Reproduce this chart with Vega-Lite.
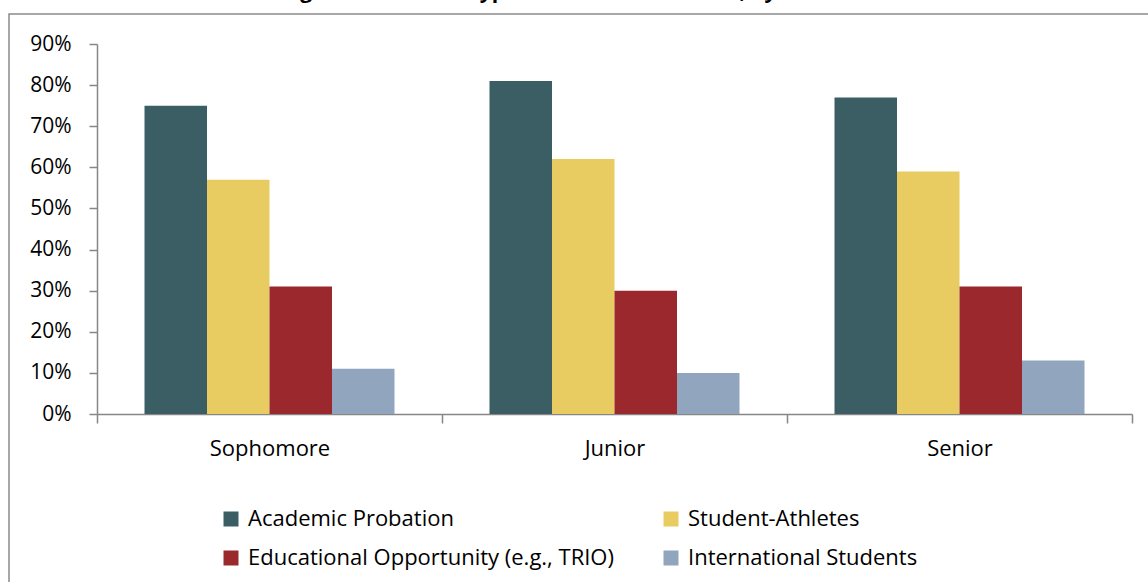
{
  "$schema": "https://vega.github.io/schema/vega-lite/v6.json",
  "autosize": {"type": "none"},
  "padding": {"left": 9, "top": 14, "right": -4, "bottom": -4},
  "width": 1143,
  "height": 572,
  "background": "white",
  "config": {
    "view": {"stroke": "#8a8a8a", "strokeWidth": 1.5},
    "font": "Open Sans"
  },
  "title": {
    "text": "Share of Institutions Offering Aid to Certain Types of Students in Need, by Class Level",
    "font": "Open Sans",
    "fontSize": 21,
    "fontWeight": "bold",
    "color": "black",
    "baseline": "alphabetic",
    "frame": "group",
    "offset": 0,
    "dy": 5,
    "dx": -130
  },
  "data": {
    "values": [
      {"year": "Sophomore", "type": "Academic Probation", "value": 0.75},
      {"year": "Sophomore", "type": "Student-Athletes", "value": 0.57},
      {"year": "Sophomore", "type": "Educational Opportunity (e.g., TRIO)", "value": 0.31},
      {"year": "Sophomore", "type": "International Students", "value": 0.11},
      {"year": "Junior", "type": "Academic Probation", "value": 0.81},
      {"year": "Junior", "type": "Student-Athletes", "value": 0.62},
      {"year": "Junior", "type": "Educational Opportunity (e.g., TRIO)", "value": 0.30},
      {"year": "Junior", "type": "International Students", "value": 0.10},
      {"year": "Senior", "type": "Academic Probation", "value": 0.77},
      {"year": "Senior", "type": "Student-Athletes", "value": 0.59},
      {"year": "Senior", "type": "Educational Opportunity (e.g., TRIO)", "value": 0.31},
      {"year": "Senior", "type": "International Students", "value": 0.13}
    ]
  },
  "mark": {"type": "bar"},
  "encoding": {
    "x": {
      "field": "year",
      "type": "nominal",
      "sort": ["Sophomore", "Junior", "Senior"],
      "scale": {"range": [88, 1123], "paddingInner": 0, "paddingOuter": 0},
      "axis": {
        "title": null,
        "labelAngle": 0,
        "offset": -172,
        "tickBand": "extent",
        "domainColor": "#868686",
        "tickColor": "#868686",
        "domainWidth": 1.5,
        "tickWidth": 1.5,
        "tickSize": 9,
        "labelFont": "Open Sans",
        "labelFontSize": 22,
        "labelColor": "black",
        "labelPadding": 15
      }
    },
    "xOffset": {
      "field": "type",
      "sort": ["Academic Probation", "Student-Athletes", "Educational Opportunity (e.g., TRIO)", "International Students"],
      "scale": {"paddingInner": 0, "paddingOuter": 0.76}
    },
    "y": {
      "field": "value",
      "type": "quantitative",
      "scale": {"domain": [0, 0.9], "range": [400, 30], "nice": false, "zero": true},
      "axis": {
        "title": null,
        "values": [0, 0.1, 0.2, 0.3, 0.4, 0.5, 0.6, 0.7, 0.8, 0.9],
        "format": ".0%",
        "grid": false,
        "offset": -88,
        "domainColor": "#868686",
        "tickColor": "#868686",
        "domainWidth": 1.5,
        "tickWidth": 1.5,
        "tickSize": 8,
        "labelFont": "Open Sans",
        "labelFontSize": 21,
        "labelColor": "black",
        "labelPadding": 18
      }
    },
    "color": {
      "field": "type",
      "type": "nominal",
      "sort": ["Academic Probation", "Student-Athletes", "Educational Opportunity (e.g., TRIO)", "International Students"],
      "scale": {
        "domain": ["Academic Probation", "Student-Athletes", "Educational Opportunity (e.g., TRIO)", "International Students"],
        "range": ["#3A5E64", "#E8CC61", "#9A282D", "#91A5BE"]
      },
      "legend": {
        "title": null,
        "orient": "none",
        "legendX": 211,
        "legendY": 494,
        "direction": "horizontal",
        "columns": 2,
        "columnPadding": 46,
        "rowPadding": 17,
        "padding": 0,
        "symbolType": "square",
        "symbolSize": 225,
        "symbolStrokeWidth": 0,
        "symbolOpacity": 1,
        "labelFont": "Open Sans",
        "labelFontSize": 22,
        "labelColor": "black",
        "labelOffset": 6,
        "labelLimit": 600
      }
    }
  }
}
